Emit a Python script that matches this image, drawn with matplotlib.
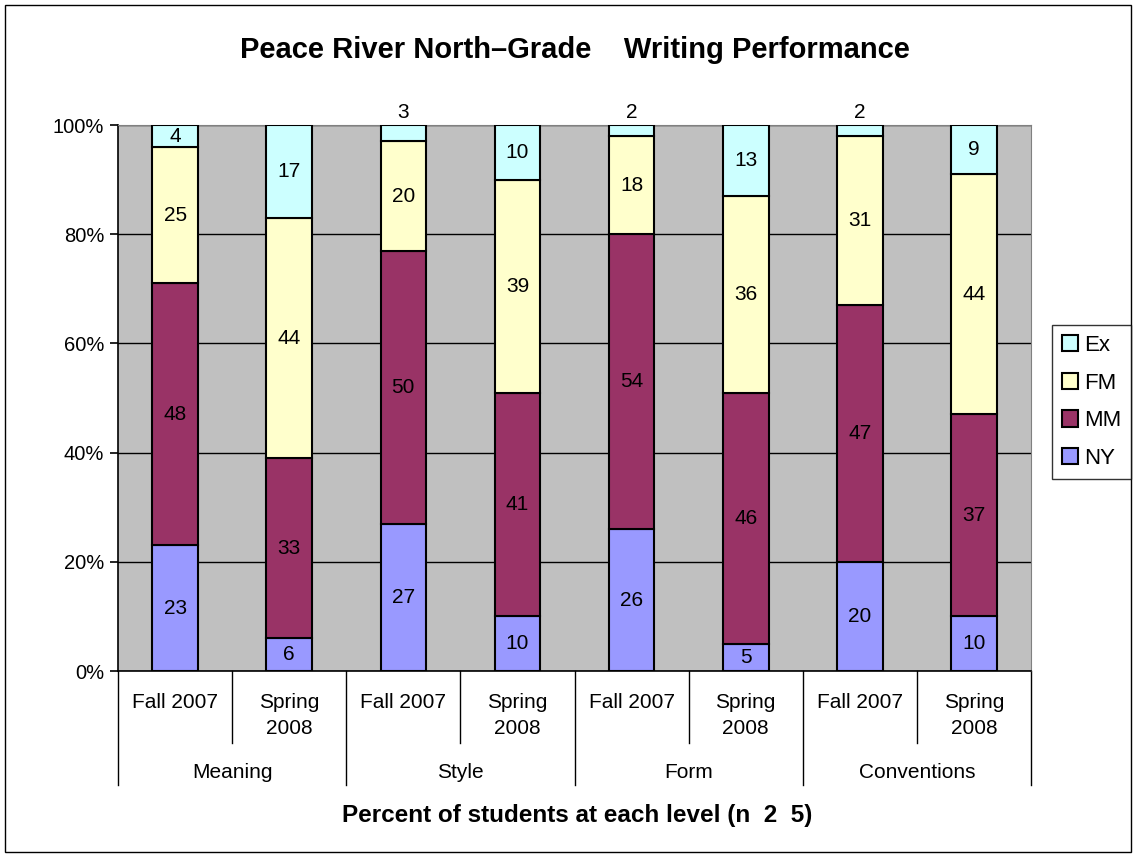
import matplotlib.pyplot as plt
import matplotlib.transforms as mtransforms
from matplotlib.patches import Patch, Rectangle

plt.rcParams['font.family'] = ['Liberation Sans', 'DejaVu Sans']

# data
groups = ['Meaning', 'Style', 'Form', 'Conventions']
terms = ['Fall 2007', 'Spring\n2008']
ny = [23, 6, 27, 10, 26, 5, 20, 10]
mm = [48, 33, 50, 41, 54, 46, 47, 37]
fm = [25, 44, 20, 39, 18, 36, 31, 44]
ex = [4, 17, 3, 10, 2, 13, 2, 9]

series = [('NY', ny, '#9999FF'), ('MM', mm, '#993366'),
          ('FM', fm, '#FFFFCC'), ('Ex', ex, '#CCFFFF')]

fig = plt.figure(figsize=(11.37, 8.57), dpi=100)
ax = fig.add_axes([0.1038, 0.217, 0.803, 0.637])
ax.set_facecolor('#C0C0C0')

x = list(range(len(ny)))
bottom = [0] * len(ny)
for name, vals, col in series:
    ax.bar(x, vals, width=0.4, bottom=bottom, color=col,
           edgecolor='black', linewidth=1.5, zorder=3)
    for i, v in enumerate(vals):
        if name == 'Ex' and v < 4:
            ypos = 102.3
        else:
            ypos = bottom[i] + v / 2
        ax.text(i, ypos, str(v), ha='center', va='center',
                fontsize=15, zorder=4, clip_on=False)
    bottom = [b + v for b, v in zip(bottom, vals)]

ax.set_xlim(-0.5, len(ny) - 0.5)
ax.set_ylim(0, 100)
ax.set_yticks([0, 20, 40, 60, 80, 100])
ax.set_yticklabels(['0%', '20%', '40%', '60%', '80%', '100%'], fontsize=14.5)
ax.yaxis.grid(True, color='black', linewidth=1, zorder=0)
ax.set_axisbelow(True)
ax.tick_params(axis='y', direction='out', length=6, width=1.2, pad=4)
ax.set_xticks([])
for s in ['top', 'right']:
    ax.spines[s].set_color('#808080')
ax.spines['left'].set_linewidth(1.2)
ax.spines['bottom'].set_linewidth(1.2)

# multi-level category axis
trans = mtransforms.blended_transform_factory(ax.transData, ax.transAxes)
for i in range(len(ny)):
    ax.text(i, -0.04, terms[i % 2], transform=trans, ha='center', va='top',
            fontsize=15, linespacing=1.45)
for g, name in enumerate(groups):
    ax.text(2 * g + 0.5, -0.185, name, transform=trans, ha='center',
            va='center', fontsize=15)
for k in range(len(ny) + 1):
    xb = k - 0.5
    low = -0.209 if k % 2 == 0 else -0.132
    ax.plot([xb, xb], [0, low], transform=trans, color='black',
            linewidth=1, clip_on=False)

ax.set_title('Peace River North\u2013Grade    Writing Performance',
             fontsize=21, fontweight='bold', pad=48)
fig.text(0.508, 0.049, 'Percent of students at each level (n  2  5)',
         ha='center', va='center', fontsize=17.5, fontweight='bold')

handles = [Patch(facecolor=c, edgecolor='black', linewidth=1.5, label=n)
           for n, _, c in series[::-1]]
fig.legend(handles=handles, loc='center left', bbox_to_anchor=(0.925, 0.531),
           fontsize=16, frameon=True, fancybox=False, edgecolor='black',
           handlelength=0.75, handleheight=0.75, handletextpad=0.25,
           labelspacing=0.75, borderpad=0.45, borderaxespad=0)

fig.patches.append(Rectangle((0.004, 0.006), 0.991, 0.988, transform=fig.transFigure,
                             fill=False, edgecolor='black', linewidth=1))

fig.savefig('out.png', dpi=100)
